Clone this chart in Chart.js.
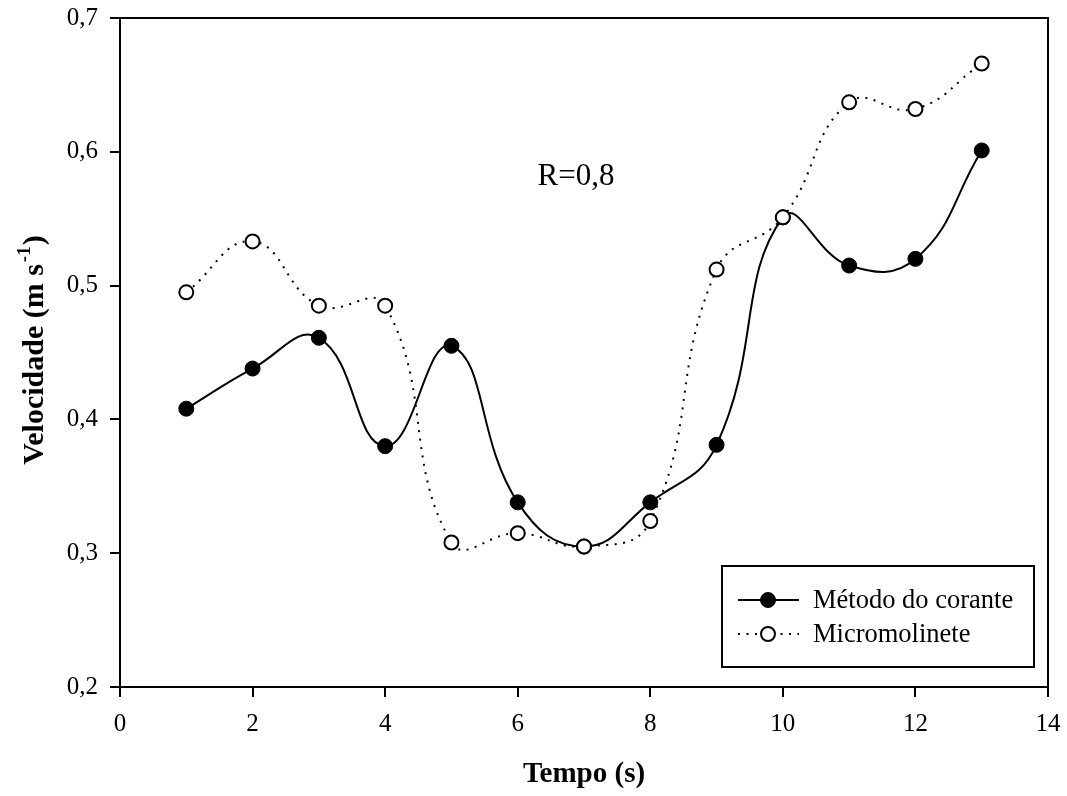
<!DOCTYPE html>
<html>
<head>
<meta charset="utf-8">
<script src="https://cdn.jsdelivr.net/npm/chart.js@4"></script>
<style>
  html, body { margin: 0; padding: 0; background: #ffffff; }
  #wrap { width: 1067px; height: 796px; }
</style>
</head>
<body>
<div id="wrap"><canvas id="c" width="1067" height="796"></canvas></div>
<script>
const tempo = [1, 2, 3, 4, 5, 6, 7, 8, 9, 10, 11, 12, 13];
const metodoCorante = [0.408, 0.438, 0.461, 0.380, 0.455, 0.338, 0.305, 0.338, 0.381, 0.551, 0.515, 0.520, 0.601];
const micromolinete = [0.495, 0.533, 0.485, 0.485, 0.308, 0.315, 0.305, 0.324, 0.512, 0.551, 0.637, 0.632, 0.666];
const seriesNames = ['Método do corante', 'Micromolinete'];
const xTitle = 'Tempo (s)';
const yTitleMain = 'Velocidade (m s';
const yTitleSup = '-1';
const yTitleEnd = ')';
const annotation = 'R=0,8';

const SERIF = '"Liberation Serif", "Times New Roman", serif';

const pts = (ys) => tempo.map((x, i) => ({ x: x, y: ys[i] }));

const framePlugin = {
  id: 'frame',
  afterDraw(chart) {
    const ctx = chart.ctx;
    const a = chart.chartArea;
    ctx.save();
    ctx.strokeStyle = '#000';
    ctx.lineWidth = 2;
    ctx.strokeRect(a.left, a.top, a.right - a.left, a.bottom - a.top);

    // annotation
    ctx.fillStyle = '#000';
    ctx.font = '31px ' + SERIF;
    ctx.textAlign = 'center';
    ctx.textBaseline = 'alphabetic';
    ctx.fillText(annotation, 576, 185);

    // y title with superscript
    ctx.save();
    ctx.translate(33, 350);
    ctx.rotate(-Math.PI / 2);
    const fMain = 'bold 30px ' + SERIF;
    const fSup = 'bold 19px ' + SERIF;
    ctx.font = fMain;
    const w1 = ctx.measureText(yTitleMain).width;
    const w3 = ctx.measureText(yTitleEnd).width;
    ctx.font = fSup;
    const w2 = ctx.measureText(yTitleSup).width;
    const total = w1 + w2 + w3 + 3;
    let x0 = -total / 2;
    ctx.textAlign = 'left';
    ctx.textBaseline = 'alphabetic';
    ctx.font = fMain;
    ctx.fillText(yTitleMain, x0, 10);
    ctx.font = fSup;
    ctx.fillText(yTitleSup, x0 + w1 + 2, -3);
    ctx.font = fMain;
    ctx.fillText(yTitleEnd, x0 + w1 + w2 + 3, 10);
    ctx.restore();

    // legend
    const lx = 722, ly = 566, lw = 312, lh = 101;
    ctx.fillStyle = '#fff';
    ctx.fillRect(lx, ly, lw, lh);
    ctx.strokeStyle = '#000';
    ctx.lineWidth = 2;
    ctx.strokeRect(lx, ly, lw, lh);
    const rows = [600, 634];
    chart.data.datasets.forEach((ds, i) => {
      const y = rows[i];
      ctx.save();
      ctx.strokeStyle = ds.borderColor;
      ctx.lineWidth = ds.borderWidth;
      ctx.setLineDash(ds.borderDash || []);
      ctx.beginPath();
      ctx.moveTo(738, y);
      ctx.lineTo(799, y);
      ctx.stroke();
      ctx.setLineDash([]);
      ctx.beginPath();
      ctx.arc(768, y, ds.pointRadius, 0, Math.PI * 2);
      ctx.fillStyle = ds.pointBackgroundColor;
      ctx.fill();
      ctx.lineWidth = ds.pointBorderWidth;
      ctx.strokeStyle = ds.pointBorderColor;
      ctx.stroke();
      ctx.restore();
      ctx.fillStyle = '#000';
      ctx.font = '26.5px ' + SERIF;
      ctx.textAlign = 'left';
      ctx.textBaseline = 'middle';
      ctx.fillText(ds.label, 813, y + 1);
    });
    ctx.restore();
  }
};

function zeroPad(scale) {
  scale.paddingTop = 0;
  scale.paddingBottom = 0;
  scale.paddingLeft = 0;
  scale.paddingRight = 0;
}

new Chart(document.getElementById('c'), {
  type: 'line',
  data: {
    datasets: [
      {
        label: seriesNames[0],
        data: pts(metodoCorante),
        borderColor: '#000',
        borderWidth: 2,
        tension: 0.45,
        pointRadius: 7.5,
        pointBackgroundColor: '#000',
        pointBorderColor: '#000',
        pointBorderWidth: 1,
        fill: false,
        order: 1
      },
      {
        label: seriesNames[1],
        data: pts(micromolinete),
        borderColor: '#000',
        borderWidth: 2,
        borderDash: [2, 6.5],
        tension: 0.45,
        pointRadius: 7,
        pointBackgroundColor: '#fff',
        pointBorderColor: '#000',
        pointBorderWidth: 2,
        fill: false,
        order: 0
      }
    ]
  },
  options: {
    responsive: false,
    animation: false,
    devicePixelRatio: 1,
    layout: { padding: { top: 18, right: 19, left: 0, bottom: 0 } },
    plugins: {
      legend: { display: false },
      tooltip: { enabled: false },
      title: { display: false }
    },
    scales: {
      x: {
        type: 'linear',
        min: 0,
        max: 14,
        ticks: {
          stepSize: 2,
          color: '#000',
          font: { family: SERIF, size: 25 },
          padding: 12,
          maxRotation: 0
        },
        grid: {
          display: true,
          drawOnChartArea: false,
          drawTicks: true,
          tickLength: 10,
          color: '#000',
          lineWidth: 2
        },
        border: { display: true, color: '#000', width: 2 },
        title: {
          display: true,
          text: xTitle,
          color: '#000',
          font: { family: SERIF, size: 29, weight: 'bold', lineHeight: 1.45 },
          padding: 0
        },
        afterFit(scale) { scale.height = 109; zeroPad(scale); }
      },
      y: {
        type: 'linear',
        min: 0.2,
        max: 0.7,
        ticks: {
          stepSize: 0.1,
          color: '#000',
          font: { family: SERIF, size: 25 },
          padding: 12,
          callback: (v) => v.toFixed(1).replace('.', ',')
        },
        grid: {
          display: true,
          drawOnChartArea: false,
          drawTicks: true,
          tickLength: 10,
          color: '#000',
          lineWidth: 2
        },
        border: { display: true, color: '#000', width: 2 },
        title: { display: false },
        afterFit(scale) { scale.width = 120; zeroPad(scale); }
      }
    }
  },
  plugins: [framePlugin]
});
</script>
</body>
</html>
